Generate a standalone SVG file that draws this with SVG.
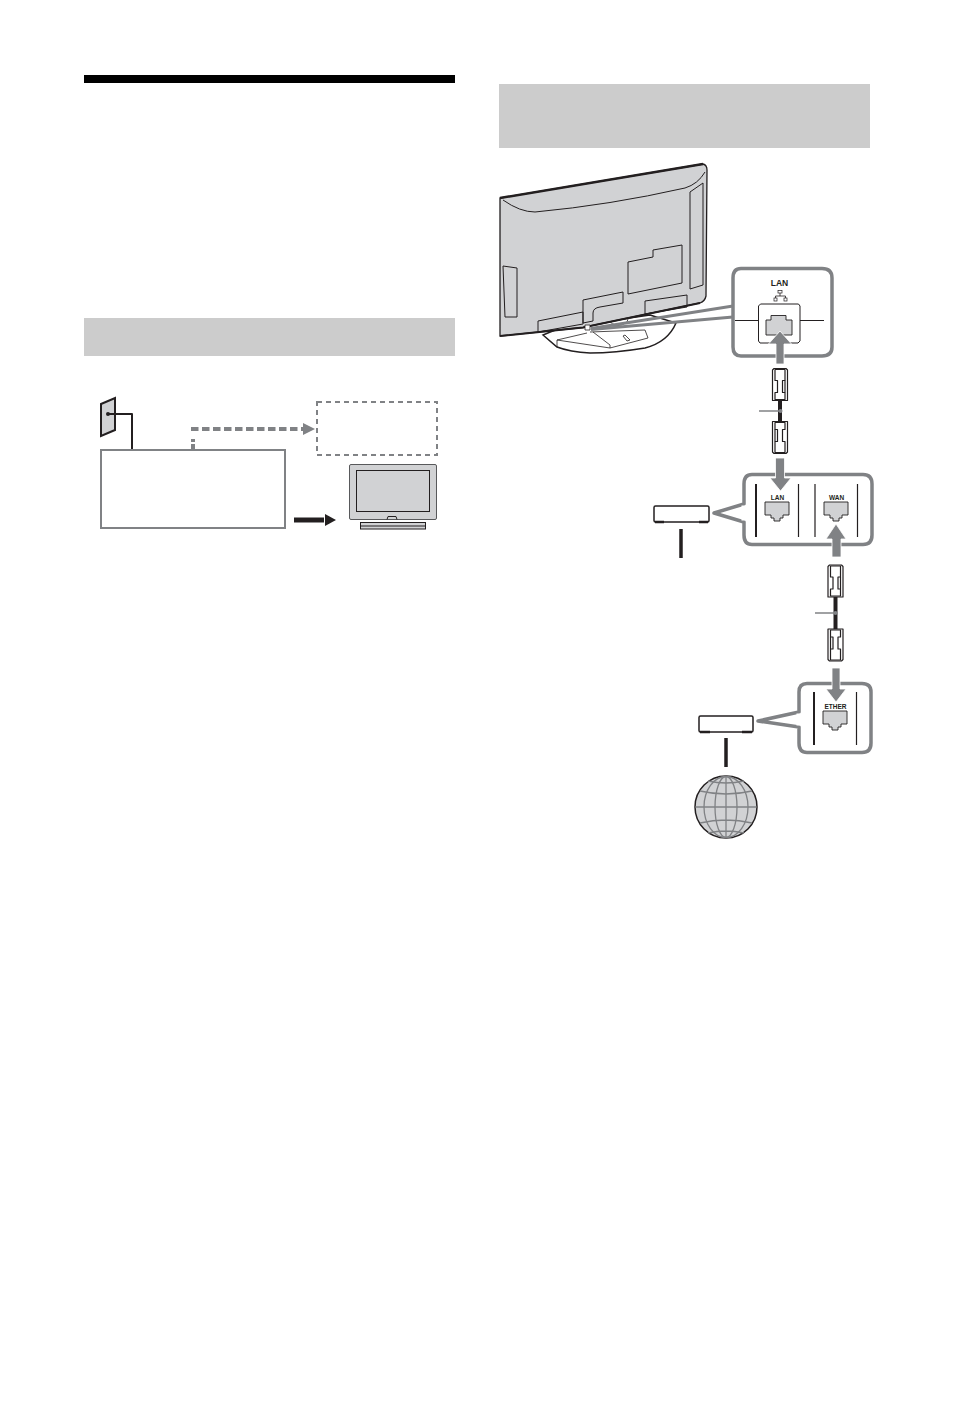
<svg xmlns="http://www.w3.org/2000/svg" width="954" height="1403" viewBox="0 0 954 1403">
<defs>
<style>
.hdr{fill:#cccccc}
.scr{fill:#d1d2d4}
.k{fill:none;stroke:#231f20;stroke-linejoin:round}
.thin{stroke-width:1}
.bub{fill:#fff;stroke:#808285;stroke-width:3.500;stroke-linejoin:round}
.port{fill:#d1d2d4;stroke:#231f20;stroke-width:.9}
.arr{fill:#808285;stroke:#fff;stroke-width:.8}
.lbl{font-family:"Liberation Sans",Arial,sans-serif;font-weight:700;fill:#231f20;text-anchor:middle}
.plug{fill:#fff;stroke:#231f20;stroke-width:1.200;stroke-linejoin:round}
</style>
<g id="plugU">
<path class="plug" d="M-7.500,-14.500L-6,-16H6L7.500,-14.500V16H-7.500Z"/>
<path class="plug" d="M-5,-15H5V-4H2.500V8H5V15H-5V8H-2.500V-4H-5Z"/>
<path d="M5,-4V8" stroke="#231f20" stroke-width="1.200" fill="none"/>
</g>
<path id="rj" class="port" d="M-12,-10h24v13h-6v3h-3v3h-6v-3h-3v-3h-6z"/>
</defs>
<rect id="top-rule" x="84" y="75" width="371" height="8" fill="#000"/>
<rect id="header-right" class="hdr" x="499" y="84" width="371" height="64"/>
<rect id="header-left" class="hdr" x="84" y="318" width="371" height="38"/>
<g id="wall-outlet">
<path d="M101,404l14,-6v32l-14,6z" fill="#d1d2d4" stroke="#231f20" stroke-width="2"/>
</g>
<g id="receiver">
<rect x="101" y="450" width="184" height="78" fill="#fff" stroke="#808285" stroke-width="2"/>
</g>
<g id="dashed-box">
<rect x="317" y="402" width="120" height="53" fill="#fff" stroke="#808285" stroke-width="2" stroke-dasharray="5 4"/>
</g>
<g id="small-tv">
<rect x="349.500" y="464.500" width="87" height="55" rx="1.500" fill="#d1d2d4" stroke="#58595b" stroke-width="1"/>
<rect x="356.500" y="470.500" width="73" height="41" class="scr" stroke="#231f20" stroke-width="1"/>
<path d="M387,519.500l1,-3h8l1,3" class="k thin"/>
<rect x="360.500" y="522.500" width="65" height="6.500" class="scr" stroke="#231f20" stroke-width="1"/>
<path d="M360.500,526h65" class="k thin"/>
</g>
<g id="connectors-left">
<path d="M108,414h24v35" class="k" stroke-width="2"/>
<circle cx="108" cy="414" r="2" fill="#231f20"/>
<path d="M193,449v-10" fill="none" stroke="#808285" stroke-width="4" stroke-dasharray="5 2"/>
<path d="M191,429h112" fill="none" stroke="#808285" stroke-width="4" stroke-dasharray="7.500 3.500"/>
<path d="M303,423l12,6l-12,6z" fill="#808285"/>
<path d="M294,520h30" stroke="#231f20" stroke-width="5" fill="none"/>
<path d="M325,514l11,6l-11,6z" fill="#231f20"/>
</g>
<g id="tv-back">
<path d="M543,335L557,347Q570,352 590,353Q615,353 645,348Q668,342 676,323L650,315L560,328z" fill="#fff" stroke="#231f20" stroke-width="1.500"/>
<path d="M557,347V340L587,333M557,340L610,348L648,338L645,330L590,332M593,332L610,345V348M625,335l5,5l-3,1l-4,-5z" fill="none" stroke="#231f20" stroke-width=".8"/>
<path d="M608,320Q617,330 627,322L629,316H608z" fill="none" stroke="#231f20" stroke-width=".8"/>
<path d="M500,198L703,164Q707,165 707,170L706,296Q705,301 700,303L583,327.500L500,336z" fill="#d1d2d4" stroke="#231f20" stroke-width="1.300"/>
<path d="M500,198L703,164" fill="none" stroke="#231f20" stroke-width="2.500"/>
<path d="M500,336L583,327.500L700,303" fill="none" stroke="#231f20" stroke-width="2"/>
<path d="M503,200Q520,212 535,212Q610,205 685,188Q698,184 705,172" class="k thin"/>
<path d="M690,192L703,183V285L690,289z" class="k thin"/>
<path d="M503,266L517,268V317H505z" class="k thin"/>
<path d="M628,262L653,257V250L682,245V283L628,294z" class="k thin"/>
<path d="M583,300L623,292V303L600,307Q593,308 593,313V321L583,323z" class="k thin"/>
<path d="M538,321L583,312V324L538,332z" class="k thin"/>
<path d="M645,301L687,295V307L645,314z" class="k thin"/>
<path d="M585,325h5v5h-5z" fill="#fff" stroke="#231f20" stroke-width=".8"/>
</g>
<g id="lan-callout">
<path d="M591,328.500L733,306" stroke="#808285" stroke-width="3" fill="none"/>
<path d="M591,329.500L733,317" stroke="#808285" stroke-width="3" fill="none"/>
<path class="bub" d="M741,268.500H822Q832,268.500 832,278V347Q832,356 822,356H741Q733,356 733,347V278Q733,268.500 741,268.500z"/>
<text class="lbl" x="779.500" y="285.500" font-size="8.500">LAN</text>
<path d="M780,293v3M775.500,298v-2h10v2" class="k" stroke-width=".8"/>
<rect x="778" y="290.500" width="4" height="2.500" fill="none" stroke="#231f20" stroke-width=".7"/>
<rect x="774" y="298" width="3" height="3" fill="none" stroke="#231f20" stroke-width=".7"/>
<rect x="784" y="298" width="3" height="3" fill="none" stroke="#231f20" stroke-width=".7"/>
<path d="M735,320.500h24M800,320.500h24M758.500,341v-35l2,-2h38l1.500,2v35l-2,2h-38z" class="k thin"/>
<path d="M766,335V320H771V315.500H786V320H792V335z" fill="#d1d2d4" stroke="#231f20" stroke-width=".9"/>
</g>
<g id="router-callout">
<path class="bub" d="M752,474.500H863Q872,474.500 872,484V535Q872,544.500 863,544.500H752Q744,544.500 744,535V522L714,513L744,504V484Q744,474.500 752,474.500z"/>
<path d="M744,505.500V520.500" stroke="#fff" stroke-width="5" fill="none"/>
<path d="M756,484V537" stroke="#231f20" stroke-width="2" fill="none"/>
<path d="M798.500,484V537M815,484V537M857.500,484V537" stroke="#231f20" stroke-width="1.200" fill="none"/>
<text class="lbl" x="777.500" y="499.500" font-size="6.500">LAN</text>
<text class="lbl" x="836.500" y="499.500" font-size="6.500">WAN</text>
<use href="#rj" x="777" y="512"/>
<use href="#rj" x="836" y="512"/>
</g>
<g id="modem-callout">
<path class="bub" d="M807,683.500H862Q871,683.500 871,692V743Q871,752.500 862,752.500H807Q799,752.500 799,743V727L758,721L799,712V692Q799,683.500 807,683.500z"/>
<path d="M799,713.500V725.500" stroke="#fff" stroke-width="5" fill="none"/>
<path d="M814,692V745" stroke="#231f20" stroke-width="2" fill="none"/>
<path d="M856.500,692V745" stroke="#231f20" stroke-width="1.200" fill="none"/>
<text class="lbl" x="835.500" y="708.500" font-size="6.500">ETHER</text>
<use href="#rj" x="835" y="721"/>
</g>
<g id="router">
<rect x="654" y="506" width="55" height="16" rx="1.500" fill="#fff" stroke="#231f20" stroke-width="1.500"/>
<path d="M655,522h9M699,522h9" stroke="#231f20" stroke-width="2.500" fill="none"/>
<path d="M681,529V558" stroke="#231f20" stroke-width="3.500" fill="none"/>
</g>
<g id="modem">
<rect x="699" y="716" width="54" height="16" rx="1.500" fill="#fff" stroke="#231f20" stroke-width="1.500"/>
<path d="M700,732h10M742,732h10" stroke="#231f20" stroke-width="2.500" fill="none"/>
<path d="M726,738V767" stroke="#231f20" stroke-width="3.500" fill="none"/>
</g>
<g id="globe">
<circle cx="726" cy="807" r="31" fill="#d1d2d4" stroke="#231f20" stroke-width="1.500"/>
<g fill="none" stroke="#808285" stroke-width="1.300">
<ellipse cx="726" cy="807" rx="11" ry="30.500"/>
<ellipse cx="726" cy="807" rx="22" ry="30.500"/>
<path d="M726,776.500v61M695.500,807h61M700,791q26,6 52,0M700,823q26,-6 52,0M708,781q18,4 36,0M708,833q18,-4 36,0"/>
</g>
</g>
<g id="cables">
<path d="M780,398v26" stroke="#231f20" stroke-width="4" fill="none"/>
<path d="M835.500,594v35" stroke="#231f20" stroke-width="4" fill="none"/>
<path d="M759,411h21" stroke="#808285" stroke-width="1.500" fill="none"/>
<circle cx="780.500" cy="411" r="2" fill="#808285"/>
<path d="M815,613h21" stroke="#808285" stroke-width="1.500" fill="none"/>
<circle cx="835.500" cy="613" r="2" fill="#808285"/>
<use href="#plugU" x="780" y="384.500"/>
<use href="#plugU" transform="translate(780,437.500) rotate(180)"/>
<use href="#plugU" x="835.500" y="581"/>
<use href="#plugU" transform="translate(835.500,645) rotate(180)"/>
</g>
<g id="arrows">
<path class="arr" d="M776,364V344h-7.500L780,331l11.500,13H784V364z"/>
<path class="arr" d="M775.500,458h9v20h6.500L780.500,491L770,478h5.500z"/>
<path class="arr" d="M832,557V539h-6L836,524l10,15h-5V557z"/>
<path class="arr" d="M832,668h8v21h6L836,702l-10,-13h6z"/>
</g>
</svg>
